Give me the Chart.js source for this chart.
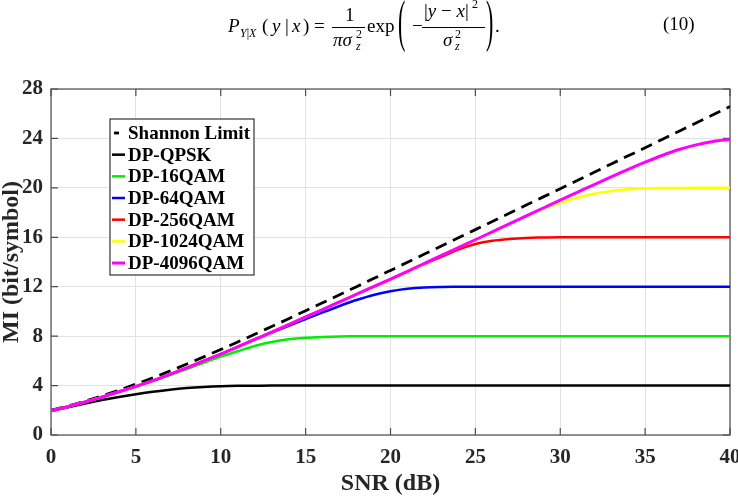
<!DOCTYPE html>
<html>
<head>
<meta charset="utf-8">
<script src="https://cdn.jsdelivr.net/npm/chart.js@4.4.1/dist/chart.umd.min.js"></script>
<style>
  body { margin: 0; background: #fff; }
  #wrap { position: relative; width: 738px; height: 498px; overflow: hidden; }
  #chart { position: absolute; left: 0; top: 0; }
  #eq { position: absolute; left: 0; top: 0; width: 738px; height: 60px; font-family: "Liberation Serif", "Times New Roman", serif; font-size: 19px; line-height: 19px; color: #000; }
  #eq span { position: absolute; white-space: nowrap; }
  #eq .sm { font-size: 12px; line-height: 12px; }
  #eq .bar { position: absolute; height: 1px; background: #000; }
  #eq .big { font-size: 22px; transform: scale(1, 2.6); transform-origin: 50% 50%; }
</style>
</head>
<body>
<div id="wrap">
  <canvas id="chart" width="738" height="498"></canvas>
  <div id="eq">
    <span style="left:228px;top:16px"><i>P</i></span>
    <span class="sm" style="left:240px;top:27px"><i>Y</i>|<i>X</i></span>
    <span style="left:262px;top:16px">(</span>
    <span style="left:272px;top:16px"><i>y</i></span>
    <span style="left:285px;top:16px">|</span>
    <span style="left:292px;top:16px"><i>x</i></span>
    <span style="left:303px;top:16px">)</span>
    <span style="left:314px;top:16px">=</span>
    <span style="left:345px;top:5px">1</span>
    <div class="bar" style="left:332px;top:27px;width:33px"></div>
    <span style="left:333px;top:30px"><i>πσ</i></span>
    <span class="sm" style="left:356px;top:28px">2</span>
    <span class="sm" style="left:356px;top:40px"><i>z</i></span>
    <span style="left:367px;top:16px">exp</span>
    <span class="big" style="left:398px;top:11px">(</span>
    <span style="left:412px;top:16px">−</span>
    <span style="left:424px;top:1px">|<i>y</i> − <i>x</i>|</span>
    <span class="sm" style="left:472px;top:-2px">2</span>
    <div class="bar" style="left:422px;top:27px;width:63px"></div>
    <span style="left:443px;top:30px"><i>σ</i></span>
    <span class="sm" style="left:455px;top:28px">2</span>
    <span class="sm" style="left:455px;top:40px"><i>z</i></span>
    <span class="big" style="left:486px;top:11px">)</span>
    <span style="left:495px;top:16px">.</span>
    <span style="left:663px;top:14px">(10)</span>
  </div>
</div>
<script>
"use strict";

var snr = [0,1,2,3,4,5,6,7,8,9,10,11,12,13,14,15,16,17,18,19,20,21,22,23,24,25,26,27,28,29,30,31,32,33,34,35,36,37,38,39,40];

var shannon = [2.00,2.35,2.74,3.17,3.63,4.12,4.63,5.18,5.74,6.32,6.92,7.53,8.15,8.78,9.41,10.06,10.70,11.35,12.00,12.66,13.32,13.98,14.64,15.30,15.96,16.62,17.28,17.94,18.61,19.27,19.93,20.60,21.26,21.93,22.59,23.25,23.92,24.58,25.25,25.91,26.58];

var qpsk = [1.94,2.25,2.55,2.83,3.08,3.30,3.50,3.67,3.80,3.89,3.95,3.98,3.99,4.00,4.00,4.00,4.00,4.00,4.00,4.00,4.00,4.00,4.00,4.00,4.00,4.00,4.00,4.00,4.00,4.00,4.00,4.00,4.00,4.00,4.00,4.00,4.00,4.00,4.00,4.00,4.00];

var qam16 = [1.95,2.30,2.67,3.06,3.48,3.90,4.36,4.84,5.33,5.84,6.35,6.78,7.20,7.52,7.74,7.87,7.94,7.98,7.99,8.00,8.00,8.00,8.00,8.00,8.00,8.00,8.00,8.00,8.00,8.00,8.00,8.00,8.00,8.00,8.00,8.00,8.00,8.00,8.00,8.00,8.00];

var qam64 = [1.95,2.30,2.67,3.07,3.50,3.93,4.40,4.91,5.44,5.99,6.55,7.13,7.73,8.28,8.84,9.38,9.92,10.44,10.92,11.33,11.63,11.83,11.94,11.98,11.99,12.00,12.00,12.00,12.00,12.00,12.00,12.00,12.00,12.00,12.00,12.00,12.00,12.00,12.00,12.00,12.00];

var qam256 = [1.95,2.30,2.67,3.07,3.50,3.93,4.40,4.91,5.44,5.99,6.55,7.13,7.73,8.33,8.94,9.55,10.15,10.77,11.39,12.00,12.60,13.23,13.84,14.42,15.00,15.45,15.72,15.87,15.95,15.98,16.00,16.00,16.00,16.00,16.00,16.00,16.00,16.00,16.00,16.00,16.00];

var qam1024 = [1.95,2.30,2.67,3.07,3.50,3.93,4.40,4.91,5.44,5.99,6.55,7.13,7.73,8.33,8.94,9.55,10.15,10.77,11.39,12.00,12.62,13.25,13.89,14.53,15.17,15.80,16.44,17.08,17.70,18.28,18.78,19.20,19.52,19.75,19.88,19.95,19.98,19.99,20.00,20.00,20.00];

var qam4096 = [1.95,2.30,2.67,3.07,3.50,3.93,4.40,4.91,5.44,5.99,6.55,7.13,7.73,8.33,8.94,9.55,10.15,10.77,11.39,12.00,12.62,13.25,13.89,14.53,15.17,15.80,16.44,17.08,17.73,18.37,19.01,19.64,20.27,20.89,21.50,22.08,22.62,23.10,23.48,23.76,23.92];

var seriesNames = ['Shannon Limit', 'DP-QPSK', 'DP-16QAM', 'DP-64QAM', 'DP-256QAM', 'DP-1024QAM', 'DP-4096QAM'];
var seriesColors = ['#000000', '#000000', '#00ee00', '#0000ff', '#ff0000', '#ffff00', '#ff00ff'];
var seriesData = [shannon, qpsk, qam16, qam64, qam256, qam1024, qam4096];

var serif = '"Liberation Serif", "Times New Roman", serif';

function pts(arr){
    return arr.map(function(v, i){ return {x: snr[i], y: v}; });
}

var datasets = seriesData.map(function(arr, i){
    return {
        label: seriesNames[i],
        data: pts(arr),
        borderColor: seriesColors[i],
        backgroundColor: seriesColors[i],
        borderWidth: i == 0 ? 2.8 : (i == 6 ? 3 : 2.5),
        borderDash: i == 0 ? [12, 7] : [],
        pointRadius: 0,
        cubicInterpolationMode: 'monotone',
        fill: false,
        order: 7 - i
    };
});

// box round the axes with inward ticks, matlab style
var axisBox = {
    id: 'axisBox',
    beforeDatasetsDraw: function(chart){
        var a = chart.chartArea, ctx = chart.ctx;
        var sx = chart.scales.x, sy = chart.scales.y;
        ctx.save();
        ctx.strokeStyle = '#4d4d4d';
        ctx.lineWidth = 1.2;
        ctx.strokeRect(a.left, a.top, a.right - a.left, a.bottom - a.top);
        ctx.beginPath();
        sx.ticks.forEach(function(t){
            var px = sx.getPixelForValue(t.value);
            ctx.moveTo(px, a.bottom); ctx.lineTo(px, a.bottom - 7);
            ctx.moveTo(px, a.top); ctx.lineTo(px, a.top + 7);
        });
        sy.ticks.forEach(function(t){
            var py = sy.getPixelForValue(t.value);
            ctx.moveTo(a.left, py); ctx.lineTo(a.left + 7, py);
            ctx.moveTo(a.right, py); ctx.lineTo(a.right - 7, py);
        });
        ctx.stroke();
        ctx.restore();
    }
};

var boxLegend = {
    id: 'boxLegend',
    afterDatasetsDraw: function(chart){
        var ctx = chart.ctx;
        var x = 110, y = 119, w = 144, h = 156, row = 21.67;
        ctx.save();
        ctx.fillStyle = '#fff';
        ctx.fillRect(x, y, w, h);
        ctx.strokeStyle = '#333';
        ctx.lineWidth = 1.2;
        ctx.strokeRect(x, y, w, h);
        ctx.font = 'bold 19px ' + serif;
        ctx.textBaseline = 'middle';
        chart.data.datasets.forEach(function(ds, i){
            var cy = y + 14 + i * row;
            ctx.strokeStyle = ds.borderColor;
            ctx.lineWidth = ds.borderWidth;
            ctx.setLineDash(ds.borderDash);
            ctx.lineDashOffset = i == 0 ? -2 : 0;
            ctx.beginPath();
            ctx.moveTo(x + 2, cy);
            ctx.lineTo(i == 0 ? x + 9 : x + 15, cy);
            ctx.stroke();
            ctx.setLineDash([]);
            ctx.fillStyle = '#000';
            ctx.fillText(ds.label, x + 18, cy + 1);
        });
        ctx.restore();
    }
};

new Chart(document.getElementById('chart'), {
    type: 'line',
    data: { datasets: datasets },
    plugins: [axisBox, boxLegend],
    options: {
        responsive: false,
        animation: false,
        devicePixelRatio: 1,
        layout: { padding: { left: 0, right: 8, top: 89, bottom: 0 } },
        plugins: {
            legend: { display: false },
            tooltip: { enabled: false }
        },
        scales: {
            x: {
                type: 'linear',
                min: 0,
                max: 40,
                ticks: { stepSize: 5, padding: 10, color: '#262626', font: { family: serif, size: 21, weight: 'bold' } },
                grid: { color: '#e2e2e2', drawTicks: false },
                border: { display: false },
                title: { display: true, text: 'SNR (dB)', color: '#262626', font: { family: serif, size: 24, weight: 'bold', lineHeight: 1 }, padding: { top: 0, bottom: 2 } },
                afterFit: function(s){ s.height = 63; s.paddingLeft = 0; s.paddingRight = 0; }
            },
            y: {
                min: 0,
                max: 28,
                ticks: { stepSize: 4, padding: 8, color: '#262626', font: { family: serif, size: 21, weight: 'bold' } },
                grid: { color: '#e2e2e2', drawTicks: false },
                border: { display: false },
                title: { display: true, text: 'MI (bit/symbol)', color: '#262626', font: { family: serif, size: 24, weight: 'bold', lineHeight: 1 }, padding: { top: 0, bottom: 0 } },
                afterFit: function(s){ s.width = 51; s.paddingTop = 0; s.paddingBottom = 0; }
            }
        }
    }
});
</script>
</body>
</html>
